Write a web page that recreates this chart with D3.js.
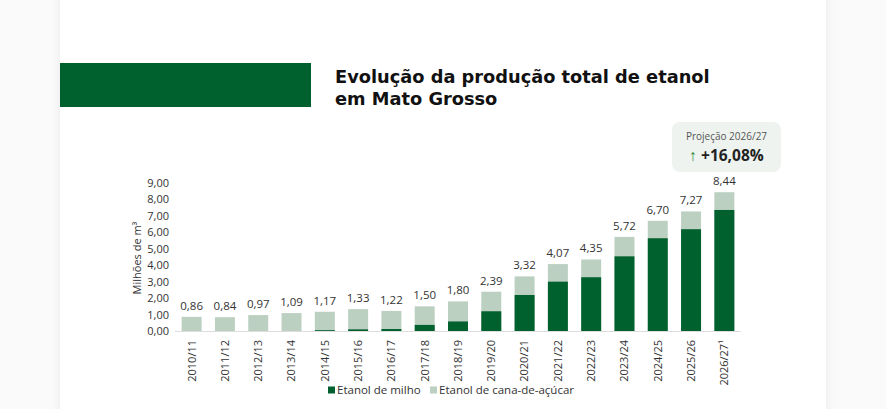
<!DOCTYPE html>
<html>
<head>
<meta charset="utf-8">
<script src="https://cdn.jsdelivr.net/npm/d3@7"></script>
<style>
  body { margin: 0; background: #fafafa; font-family: "Open Sans", "Noto Sans", sans-serif; }
  #chart { width: 886px; height: 409px; }
</style>
</head>
<body>
<div id="chart"></div>
<script>
// data
var safras = ["2010/11", "2011/12", "2012/13", "2013/14", "2014/15", "2015/16", "2016/17", "2017/18",
  "2018/19", "2019/20", "2020/21", "2021/22", "2022/23", "2023/24", "2024/25", "2025/26", "2026/27¹"];
var totais = [0.86, 0.84, 0.97, 1.09, 1.17, 1.33, 1.22, 1.50, 1.80, 2.39, 3.32, 4.07, 4.35, 5.72, 6.70, 7.27, 8.44];
var milho = [0, 0, 0, 0, 0.05, 0.10, 0.12, 0.37, 0.58, 1.20, 2.19, 3.00, 3.27, 4.54, 5.64, 6.19, 7.36];
var yTicks = [0, 1, 2, 3, 4, 5, 6, 7, 8, 9];
var legenda = ["Etanol de milho", "Etanol de cana-de-açúcar"];
var titulo = ["Evolução da produção total de etanol", "em Mato Grosso"];

var fmt = function (v) { return d3.format(".2f")(v).replace(".", ","); };
var verde = "#00612f", cana = "#bcd0c2";

var svg = d3.select("#chart").append("svg")
  .attr("width", 886).attr("height", 409);

// card with soft shadow
var defs = svg.append("defs");
var f = defs.append("filter").attr("id", "sh").attr("x", "-5%").attr("y", "-5%").attr("width", "110%").attr("height", "110%");
f.append("feDropShadow").attr("dx", 0).attr("dy", 0).attr("stdDeviation", 5).attr("flood-color", "#000").attr("flood-opacity", 0.07);
svg.append("rect").attr("x", 60).attr("y", -10).attr("width", 766).attr("height", 440)
  .attr("fill", "#fff").attr("filter", "url(#sh)");

// title block
svg.append("rect").attr("x", 60).attr("y", 63).attr("width", 251).attr("height", 44).attr("fill", verde);
titulo.forEach(function (t, i) {
  svg.append("text").attr("x", 335).attr("y", 83 + i * 22)
    .style("font-family", "'DejaVu Sans', sans-serif")
    .style("font-size", "17.8px").style("font-weight", 700).style("fill", "#111")
    .text(t);
});

// scales
var x = d3.scaleBand().domain(safras).range([175, 741]).paddingInner(0.4).paddingOuter(0.2);
var y = d3.scaleLinear().domain([0, 9]).range([331, 183]);

// y axis
var ya = svg.append("g").attr("transform", "translate(169,0)")
  .call(d3.axisLeft(y).tickValues(yTicks).tickSize(0).tickPadding(0).tickFormat(fmt));
ya.select(".domain").remove();
ya.selectAll("text").style("font-size", "11px").style("fill", "#333").style("font-family", "'Open Sans', sans-serif");

svg.append("text")
  .attr("transform", "translate(141,258) rotate(-90)")
  .attr("text-anchor", "middle")
  .style("font-size", "11px").style("fill", "#333")
  .text("Milhões de m³");

// baseline
svg.append("line").attr("x1", 175).attr("x2", 741).attr("y1", 331.5).attr("y2", 331.5)
  .attr("stroke", "#ddd");

// bars
var g = svg.append("g");
g.selectAll(".cana").data(safras).enter().append("rect")
  .attr("x", function (d) { return x(d); })
  .attr("width", x.bandwidth())
  .attr("y", function (d, i) { return y(totais[i]); })
  .attr("height", function (d, i) { return y(0) - y(totais[i]); })
  .attr("fill", cana);
g.selectAll(".milho").data(safras).enter().append("rect")
  .attr("x", function (d) { return x(d); })
  .attr("width", x.bandwidth())
  .attr("y", function (d, i) { return y(milho[i]); })
  .attr("height", function (d, i) { return y(0) - y(milho[i]); })
  .attr("fill", verde);

// value labels
g.selectAll(".lbl").data(safras).enter().append("text")
  .attr("x", function (d) { return x(d) + x.bandwidth() / 2; })
  .attr("y", function (d, i) { return y(totais[i]) - 7; })
  .attr("text-anchor", "middle")
  .style("font-size", "11.5px").style("fill", "#333")
  .text(function (d, i) { return fmt(totais[i]); });

// x axis labels
var xa = svg.append("g").attr("transform", "translate(0,331)")
  .call(d3.axisBottom(x).tickSize(0).tickPadding(0));
xa.select(".domain").remove();
xa.selectAll("text")
  .attr("transform", "rotate(-90)")
  .attr("text-anchor", "end")
  .attr("x", -9).attr("y", 0).attr("dy", "0.35em")
  .style("font-size", "11px").style("fill", "#333").style("font-family", "'Open Sans', sans-serif");

// legend
var lg = svg.append("g").attr("transform", "translate(328,390)");
var lx = [0, 102];
legenda.forEach(function (t, i) {
  lg.append("rect").attr("x", lx[i]).attr("y", -3.5).attr("width", 7).attr("height", 7)
    .attr("fill", i == 0 ? verde : cana);
  lg.append("text").attr("x", lx[i] + 9).attr("y", 0).attr("dy", "0.35em")
    .style("font-size", "11.5px").style("fill", "#333").text(t);
});

// projection box
svg.append("rect").attr("x", 672).attr("y", 122).attr("width", 109).attr("height", 50)
  .attr("rx", 8).attr("fill", "#eef3ef");
svg.append("text").attr("x", 726.5).attr("y", 140).attr("text-anchor", "middle")
  .style("font-size", "10px").style("fill", "#555").text("Projeção 2026/27");
var p = svg.append("text").attr("x", 726.5).attr("y", 161).attr("text-anchor", "middle")
  .style("font-size", "15.5px").style("font-weight", 700).style("fill", "#222");
p.append("tspan").style("fill", "#2f8a3a").text("↑ ");
p.append("tspan").text("+16,08%");
</script>
</body>
</html>
